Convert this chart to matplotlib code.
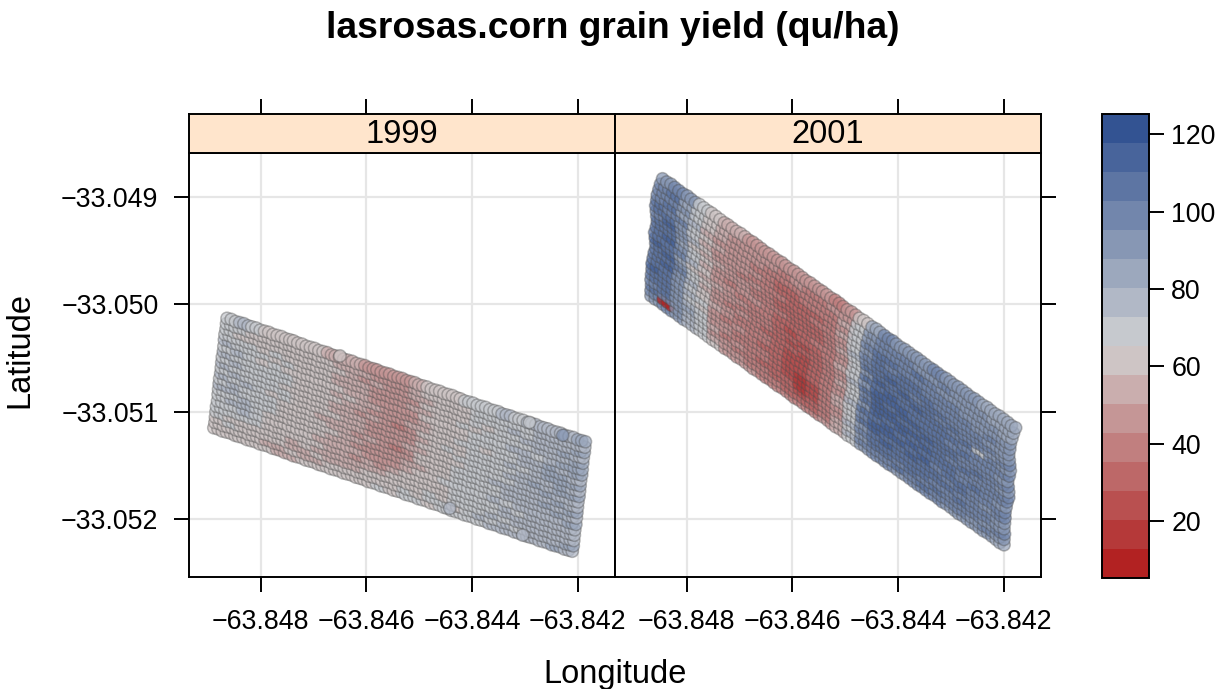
import numpy as np
import matplotlib
matplotlib.use("Agg")
import matplotlib.pyplot as plt
from matplotlib.colors import ListedColormap, BoundaryNorm
from matplotlib.cm import ScalarMappable

plt.rcParams['font.family'] = ['Liberation Sans', 'DejaVu Sans']

W, H = 1226, 689
TITLE = "lasrosas.corn grain yield (qu/ha)"
YEARS = ["1999", "2001"]
LON_TICKS = [-63.848, -63.846, -63.844, -63.842]
LAT_TICKS = [-33.049, -33.050, -33.051, -33.052]
CBAR_TICKS = [20, 40, 60, 80, 100, 120]
LEVELS = [5.3,12.8,20.3,27.8,35.3,42.8,50.3,57.8,65.2,72.7,80.2,87.7,95.2,102.7,110.2,117.7,125.2]
COLORS = ["#B22222","#B53939","#B95050","#BD6868","#C17F7F","#C59696","#CAAEAE","#CEC5C5",
          "#C6C9CE","#B1B8C6","#9CA8BD","#8797B4","#7286AC","#5D75A3","#48649B","#335392"]

# survey grid, in 1e-5 degrees from the field's north-west corner
LON0_1999, LAT0_1999 = -63.84864, -33.05013
LON_1999 = [0,8,16,24,32,40,47,55,63,71,79,87,95,103,111,119,126,134,142,150,158,166,174,182,190,198,205,213,221,229,237,245,253,261,269,277,284,292,300,308,316,324,332,340,348,356,363,371,379,387,395,403,411,419,427,435,442,450,458,466,474,482,490,498,506,514,521,529,537,545,553,561,569,577,585,593,600,608,616,624,632,640,648,656,664,672,679]
DROP_1999 = [0,1,3,4,5,7,8,9,11,12,13,15,16,17,19,20,21,23,24,26,27,28,30,31,32,34,35,36,38,39,40,42,43,44,46,47,48,50,51,52,54,55,56,58,59,60,62,63,64,66,67,68,70,71,72,74,75,77,78,79,81,82,83,85,86,87,89,90,91,93,94,95,97,98,99,101,102,103,105,106,107,109,110,111,113,114,115]
ROW_LAT_1999 = [0,5,10,15,20,26,31,36,41,46,51,56,61,66,71,77,82,87,92,97,102]
ROW_LON_1999 = [0,-1,-2,-4,-5,-6,-7,-9,-10,-11,-12,-14,-15,-16,-17,-18,-20,-21,-22,-23,-25]

LON0_2001, LAT0_2001 = -63.84846, -33.04883
LON_2001 = [0,8,16,23,31,39,47,54,62,70,78,86,93,101,109,117,124,132,140,148,156,163,171,179,187,194,202,210,218,226,233,241,249,257,265,272,280,288,296,303,311,319,327,335,342,350,358,366,373,381,389,397,405,412,420,428,436,443,451,459,467,475,482,490,498,506,513,521,529,537,545,552,560,568,576,583,591,599,607,615,622,630,638,646,654,661,669]
DROP_2001 = [0,3,5,8,11,14,16,19,22,24,27,30,32,35,38,41,43,46,49,51,54,57,59,62,65,68,70,73,76,78,81,84,86,89,92,95,97,100,103,105,108,111,113,116,119,122,124,127,130,132,135,138,140,143,146,149,151,154,157,159,162,165,167,170,173,176,178,181,184,186,189,192,194,197,200,203,205,208,211,213,216,219,221,224,227,230,232]
ROW_LAT_2001 = [0,5,10,15,20,25,30,35,40,45,50,55,60,65,69,74,79,84,89,94,99,104,109]
ROW_LON_2001 = [0,-4,-7,-10,-11,-13,-12,-11,-10,-12,-15,-14,-13,-13,-16,-18,-20,-20,-21,-22,-21,-22,-22]

# yield; each cell covers three neighbouring points of a row
YIELD_1999 = [
[66,76,70,62,60,58,58,60,56,56,55,50,48,46,48,52,58,60,64,66,66,68,74,70,76,78,80,76,82],
[66,68,62,64,62,60,62,58,58,56,54,52,48,46,50,54,58,62,62,64,68,66,70,72,70,76,78,80,80],
[70,64,60,62,64,58,60,62,58,60,54,50,52,48,46,52,56,60,64,62,66,68,68,74,72,74,80,78,82],
[72,68,66,62,68,62,60,62,60,56,52,54,48,46,50,50,60,60,64,62,68,64,70,68,74,78,76,82,80],
[76,70,66,68,64,72,60,62,58,54,56,52,48,50,44,52,54,60,62,66,64,68,72,72,70,76,80,78,84],
[70,76,68,64,68,64,62,60,62,58,52,54,50,46,48,50,58,62,62,60,68,66,68,74,76,72,78,84,82],
[76,68,72,66,70,66,62,60,60,56,58,52,54,48,44,50,56,60,64,62,66,70,68,70,76,78,82,80,86],
[72,76,70,68,66,68,60,62,58,60,54,54,50,46,48,52,54,60,60,66,68,64,72,70,74,80,84,86,80],
[78,72,66,70,68,64,64,60,60,56,56,50,52,48,42,50,58,62,62,64,66,72,68,76,72,78,82,84,82],
[70,78,72,66,68,70,62,62,58,54,52,54,48,44,46,50,56,60,66,62,70,66,70,72,76,76,80,86,78],
[76,70,74,68,64,66,62,60,60,58,54,52,50,46,44,50,60,60,62,68,66,68,70,74,76,82,78,82,84],
[68,74,70,72,68,62,64,62,56,56,52,52,48,44,48,52,54,62,64,64,68,72,72,70,78,80,84,80,78],
[74,78,66,66,70,64,60,60,60,54,54,50,52,46,42,50,58,60,62,66,66,70,74,76,74,78,76,82,80],
[72,68,76,70,66,62,62,60,58,58,52,52,48,48,46,50,60,62,62,68,68,66,70,78,76,80,82,78,82],
[68,74,78,72,64,60,62,60,60,54,52,50,50,44,44,52,56,64,64,66,70,72,72,74,78,76,80,84,78],
[70,72,74,68,62,64,60,60,56,56,52,52,48,46,48,54,60,62,66,68,66,70,76,72,76,78,76,80,82],
[66,70,72,66,60,60,58,58,58,52,52,50,52,50,52,58,62,64,62,66,70,68,72,76,72,76,80,78,76],
[68,64,64,62,58,60,56,58,54,54,52,54,56,56,60,60,64,62,64,68,66,72,70,74,76,74,78,76,80],
[62,66,60,62,58,58,54,56,58,52,56,56,58,60,62,58,64,66,64,66,70,68,74,72,74,78,74,80,78],
[64,62,62,60,56,56,58,54,56,58,58,60,62,60,64,66,62,66,68,64,68,74,68,76,72,76,78,76,82],
[62,64,60,62,58,56,56,58,58,58,60,62,64,66,62,66,68,64,70,68,72,70,76,74,76,74,80,82,78],
]
YIELD_2001 = [
[92,100,88,72,60,56,52,50,48,46,44,50,48,44,42,46,62,84,96,92,94,90,96,92,90,88,86,84,84],
[96,104,84,70,58,54,50,48,46,44,40,44,42,40,44,50,66,88,100,98,96,94,92,96,90,92,88,86,82],
[100,98,92,68,60,52,48,46,44,42,38,36,40,38,40,52,70,94,102,100,98,104,96,94,92,90,92,88,86],
[98,108,86,74,56,50,46,48,42,40,34,34,36,36,42,48,66,98,104,106,100,98,102,96,98,92,90,94,90],
[104,100,96,70,60,52,44,46,44,38,30,32,34,34,40,54,72,92,106,102,108,104,98,100,96,98,94,96,92],
[108,106,88,66,54,48,48,44,40,40,36,30,32,36,38,50,68,102,108,110,104,106,104,98,102,96,98,92,94],
[100,112,90,76,58,50,46,42,44,36,34,32,30,34,42,46,74,96,106,112,110,102,108,104,100,102,96,100,90],
[106,104,94,64,56,52,44,46,42,38,32,28,32,32,38,56,70,106,110,108,112,108,106,102,104,98,100,94,96],
[110,108,84,72,62,48,46,44,40,36,36,30,28,34,40,50,66,90,112,110,106,114,104,108,100,104,70,98,92],
[104,112,92,68,54,50,42,46,44,38,30,28,30,36,42,48,72,108,110,114,110,108,110,104,106,100,102,96,98],
[108,106,96,76,60,46,48,42,40,40,34,26,28,32,38,54,68,94,114,112,116,110,108,106,102,106,98,100,94],
[112,110,86,64,56,52,44,44,38,36,32,30,26,30,40,50,74,106,112,110,112,114,106,110,104,102,100,102,96],
[106,114,92,72,62,48,46,40,42,38,30,26,28,34,42,48,66,98,116,112,110,108,112,104,108,100,104,98,94],
[110,108,98,66,56,50,42,44,40,34,32,28,24,30,38,56,72,110,112,114,116,112,106,108,102,106,98,100,96],
[104,112,90,76,60,46,46,42,38,36,28,26,26,32,40,50,68,92,114,110,112,110,114,104,106,102,102,96,98],
[108,106,94,70,58,52,44,40,42,38,32,24,22,30,42,48,74,108,110,116,108,114,108,110,104,100,104,98,94],
[112,104,92,74,66,48,42,44,40,34,30,26,24,28,38,54,70,96,112,112,114,106,112,102,108,104,96,100,96],
[106,110,88,68,64,50,46,42,38,36,34,24,20,26,40,52,72,106,114,108,110,112,106,108,100,106,100,94,98],
[110,104,94,78,68,46,44,40,42,38,30,22,18,24,42,48,66,94,108,112,106,110,110,104,106,98,102,96,92],
[102,108,90,82,70,52,42,44,40,34,32,28,16,26,38,50,74,100,110,106,110,104,108,102,100,104,96,98,94],
[106,100,94,76,72,50,46,42,38,36,34,30,26,32,42,56,70,92,104,108,102,108,100,106,102,96,100,92,96],
[98,10,92,80,68,54,44,46,42,38,36,34,32,34,40,52,76,96,102,100,106,98,104,96,100,98,92,96,90],
[94,100,90,78,72,58,50,48,44,42,40,38,38,42,46,56,72,88,96,98,94,100,96,98,92,94,90,88,86],
]
# isolated points that sit whole on top of their neighbours
TOP_LON_1999 = [-63.8465, -63.84291, -63.84228, -63.84442, -63.84304]
TOP_LAT_1999 = [-33.05048, -33.0511, -33.05122, -33.0519, -33.05215]
TOP_YIELD_1999 = [58, 72, 88, 74, 78]

XLIM = (-63.84936, -63.84129)
YLIM = (-33.05254, -33.04859)
cmap = ListedColormap(COLORS)
norm = BoundaryNorm(LEVELS, cmap.N)

def box(x0, y0, x1, y1):
    return [x0 / W, 1 - y1 / H, (x1 - x0) / W, (y1 - y0) / H]

def fmt(v, d):
    return f"{v:.{d}f}".replace("-", "\u2212")

def field(lon0, lat0, lons, drops, row_lat, row_lon, table):
    lons, drops = np.array(lons), np.array(drops)
    vals = np.repeat(np.array(table, float), 3, axis=1)
    X, Y, V = [], [], []
    for r in range(len(row_lat) - 1, -1, -1):   # south rows first, north rows on top
        X.append(lon0 + (lons + row_lon[r]) * 1e-5)
        Y.append(lat0 - (drops + row_lat[r]) * 1e-5)
        V.append(vals[r])
    return np.concatenate(X), np.concatenate(Y), np.concatenate(V)

FACE_ALPHA = 0.75
EDGE = (0.3, 0.3, 0.3, 0.38)

def draw(ax, x, y, v):
    faces = cmap(norm(v))
    faces[:, 3] = FACE_ALPHA
    ax.scatter(x, y, s=78, c=faces, edgecolors=[EDGE], linewidths=1.1, zorder=3)

fig = plt.figure(figsize=(W / 100, H / 100), dpi=100, facecolor="white")
LW = 1.4
TL = 11
TS = 19.3
LS = 23.5
GRID = "#E6E6E6"

data = [
    field(LON0_1999, LAT0_1999, LON_1999, DROP_1999, ROW_LAT_1999, ROW_LON_1999, YIELD_1999),
    field(LON0_2001, LAT0_2001, LON_2001, DROP_2001, ROW_LAT_2001, ROW_LON_2001, YIELD_2001),
]
for i, (x0, x1) in enumerate([(189, 615), (615, 1041)]):
    ax = fig.add_axes(box(x0, 153, x1, 577))
    ax.set_xlim(*XLIM); ax.set_ylim(*YLIM)
    for t in LON_TICKS:
        ax.axvline(t, color=GRID, lw=1.6, zorder=1)
    for t in LAT_TICKS:
        ax.axhline(t, color=GRID, lw=1.6, zorder=1)
    draw(ax, *data[i])
    if i == 0:
        draw(ax, np.array(TOP_LON_1999), np.array(TOP_LAT_1999), np.array(TOP_YIELD_1999, float))
    ax.set_xticks(LON_TICKS)
    ax.set_xticklabels([fmt(t, 3) for t in LON_TICKS], fontsize=TS)
    ax.tick_params(axis="x", length=TL, width=LW, pad=12, color="black")
    ax.set_yticks(LAT_TICKS)
    ax.set_yticklabels([fmt(t, 3) for t in LAT_TICKS], fontsize=TS)
    if i == 0:
        ax.tick_params(axis="y", left=True, right=False, labelleft=True, length=TL, width=LW, pad=11)
    else:
        ax.tick_params(axis="y", left=False, right=True, labelleft=False, length=TL, width=LW)
    for s in ax.spines.values():
        s.set_linewidth(LW)

    st = fig.add_axes(box(x0, 114, x1, 153), facecolor="#FFE5CC")
    st.set_xlim(*XLIM)
    st.set_yticks([])
    st.set_xticks(LON_TICKS)
    st.tick_params(axis="x", top=True, bottom=False, labelbottom=False, length=TL, width=LW)
    st.text(0.5, 0.47, YEARS[i], transform=st.transAxes, ha="center", va="center", fontsize=LS)
    for s in st.spines.values():
        s.set_linewidth(LW)

cax = fig.add_axes(box(1102, 114, 1149, 578))
cb = fig.colorbar(ScalarMappable(norm=norm, cmap=cmap), cax=cax, boundaries=LEVELS, spacing="proportional")
cb.set_ticks(CBAR_TICKS)
cb.set_ticklabels([str(t) for t in CBAR_TICKS])
cb.minorticks_off()
cax.tick_params(length=TL, width=LW, labelsize=TS, pad=5)
cb.outline.set_linewidth(LW)

fig.text(613 / W, 1 - 29 / H, TITLE, ha="center", va="center", fontsize=26.8, fontweight="bold")
fig.text(615 / W, 1 - 674 / H, "Longitude", ha="center", va="center", fontsize=LS)
fig.text(20 / W, 1 - 350 / H, "Latitude", ha="center", va="center", rotation=90, fontsize=LS)

fig.savefig("out.png", dpi=100)
